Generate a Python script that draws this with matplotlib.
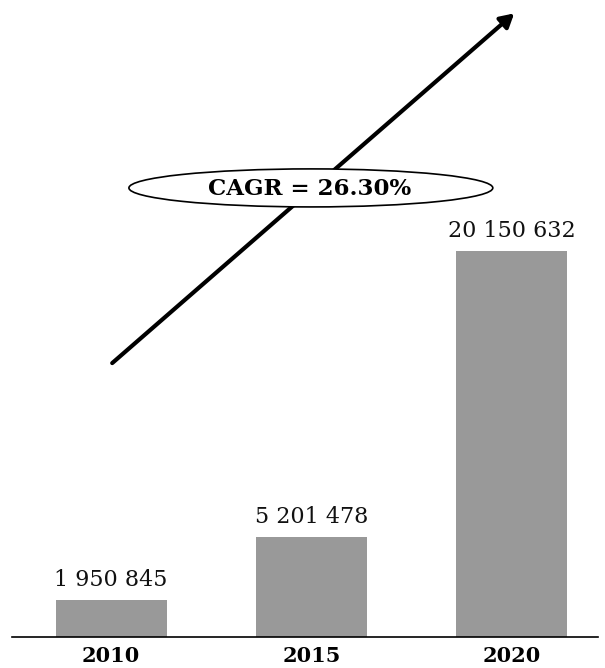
import matplotlib.pyplot as plt
from matplotlib.patches import Ellipse

years = ['2010', '2015', '2020']
values = [1950845, 5201478, 20150632]
value_labels = ['1 950 845', '5 201 478', '20 150 632']
cagr_text = 'CAGR = 26.30%'

plt.rcParams['font.family'] = ['DejaVu Serif']

fig = plt.figure(figsize=(6.05, 6.68), dpi=100)
ax = fig.add_axes([12 / 605, 31 / 668, 586 / 605, 637 / 668])

x = list(range(len(years)))
ax.bar(x, values, width=0.555, color='#999999')
for xi, v, lab in zip(x, values, value_labels):
    ax.annotate(lab, (xi, v), xytext=(0, 6.5), textcoords='offset points',
                ha='center', va='bottom', fontsize=16, color='#111111')

ax.set_xlim(-0.495, 2.43)
ax.set_ylim(0, 33.26e6)
ax.set_xticks(x)
ax.set_xticklabels(years, fontsize=15, fontweight='bold')
ax.tick_params(axis='x', length=0, pad=6.5)
ax.set_yticks([])
for side in ['top', 'left', 'right']:
    ax.spines[side].set_visible(False)
ax.spines['bottom'].set_linewidth(1.2)

# growth arrow with the CAGR badge on it
ax.annotate('', xy=(0.857, 0.979), xytext=(0.171, 0.430),
            xycoords='axes fraction', textcoords='axes fraction',
            arrowprops=dict(arrowstyle='-|>,head_length=0.8,head_width=0.45',
                            lw=3.0, color='black', shrinkA=0, shrinkB=0))
ax.add_patch(Ellipse((0.510, 0.705), 0.621, 0.0597, transform=ax.transAxes,
                     facecolor='white', edgecolor='black', lw=1.2, zorder=5))
ax.text(0.508, 0.703, cagr_text, transform=ax.transAxes, ha='center',
        va='center', fontsize=16.5, fontweight='bold', zorder=6)

fig.savefig('out.png', dpi=100)
